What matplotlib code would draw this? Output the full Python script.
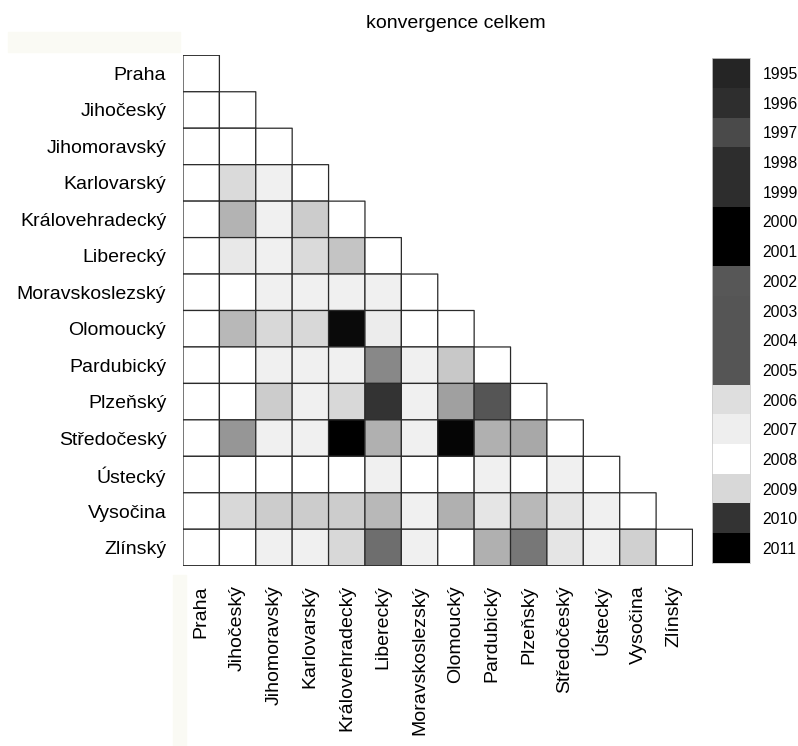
import numpy as np
import matplotlib
matplotlib.use('Agg')
import matplotlib.pyplot as plt
from matplotlib.patches import Rectangle

plt.rcParams['font.family'] = ['Liberation Sans', 'DejaVu Sans']

regions = ['Praha', 'Jihočeský', 'Jihomoravský', 'Karlovarský', 'Královehradecký',
           'Liberecký', 'Moravskoslezský', 'Olomoucký', 'Pardubický', 'Plzeňský',
           'Středočeský', 'Ústecký', 'Vysočina', 'Zlínský']

# gray level of each cell (0 = black, 255 = white), lower triangle by rows
cell_gray = [
    [255],
    [255, 255],
    [255, 255, 255],
    [255, 218, 240, 255],
    [255, 179, 240, 204, 255],
    [255, 232, 240, 218, 196, 255],
    [255, 255, 240, 240, 240, 240, 255],
    [255, 184, 216, 216, 10, 236, 255, 255],
    [255, 255, 240, 240, 240, 136, 240, 200, 255],
    [255, 255, 204, 240, 216, 51, 240, 160, 85, 255],
    [255, 150, 240, 240, 0, 176, 240, 5, 176, 168, 255],
    [255, 255, 255, 255, 255, 240, 255, 255, 240, 255, 240, 255],
    [255, 216, 204, 204, 204, 184, 240, 176, 229, 184, 229, 240, 255],
    [255, 255, 240, 240, 216, 110, 240, 255, 176, 119, 229, 240, 208, 255],
]

years = [str(y) for y in range(1995, 2012)]
year_gray = [37, 46, 74, 45, 45, 0, 0, 87, 85, 85, 85, 222, 238, 255, 216, 51, 0]

W, H = 798, 746
fig = plt.figure(figsize=(W / 100, H / 100), dpi=100)

n = len(regions)
grid = np.full((n, n), np.nan)
for i, row in enumerate(cell_gray):
    grid[i, :len(row)] = row
grid = np.ma.masked_invalid(grid)

ax = fig.add_axes([183 / W, 1 - 565.7 / H, 509.5 / W, 510.4 / H])
# pcolor leaves the masked upper triangle out entirely
ax.pcolor(np.arange(n + 1), np.arange(n + 1), grid, cmap='gray',
          vmin=0, vmax=255, edgecolors='#2a2a2a', linewidth=0.9)
ax.set_xlim(0, n)
ax.set_ylim(n, 0)
ax.set_xticks(np.arange(n) + 0.5)
ax.set_yticks(np.arange(n) + 0.5)
ax.set_xticklabels(regions, rotation=90, fontsize=14)
ax.set_yticklabels(regions, fontsize=14)
ax.tick_params(length=0, pad=12)
ax.tick_params(axis='x', pad=14)
for s in ax.spines.values():
    s.set_visible(False)

# colorbar with year labels
cax = fig.add_axes([712.3 / W, 1 - 562.7 / H, 37.7 / W, 504.4 / H])
cb = np.array(year_gray, dtype=float).reshape(-1, 1)
cax.pcolormesh(np.arange(2), np.arange(len(years) + 1), cb, cmap='gray',
               vmin=0, vmax=255)
cax.set_ylim(len(years), 0)
cax.set_xlim(0, 1)
cax.set_xticks([])
cax.set_yticks(np.arange(len(years)) + 0.5)
cax.set_yticklabels(years, fontsize=11.3)
cax.yaxis.tick_right()
cax.tick_params(length=0, pad=9)
for s in cax.spines.values():
    s.set_edgecolor('#cccccc')
    s.set_linewidth(0.6)

fig.text(456 / W, 1 - 23 / H, 'konvergence celkem', ha='center', va='center',
         fontsize=14)

# faint background patches seen in the original
fig.patches.append(Rectangle((8 / W, 1 - 51.7 / H), 172 / W, 19.4 / H,
                             transform=fig.transFigure, color='#fafaf4',
                             zorder=-1))
fig.patches.append(Rectangle((172.7 / W, 0), 13.3 / W, 171 / H,
                             transform=fig.transFigure, color='#fafaf4',
                             zorder=-1))

fig.savefig('out.png', dpi=100)
